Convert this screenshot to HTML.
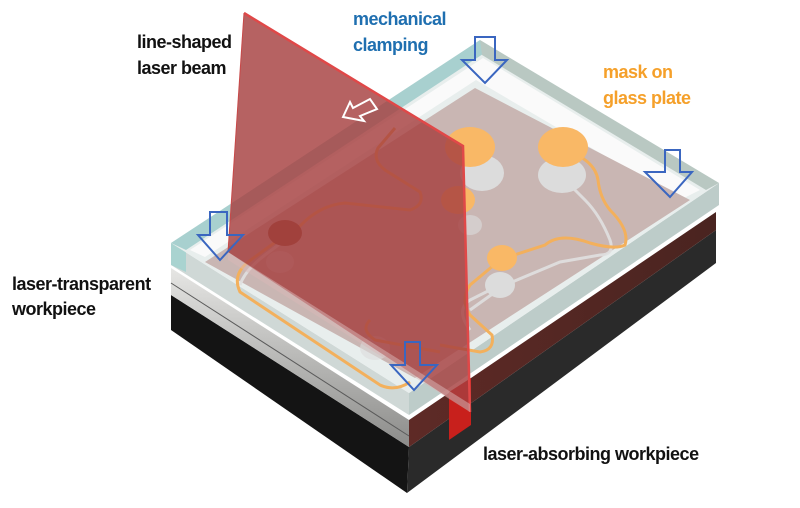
<!DOCTYPE html>
<html><head><meta charset="utf-8"><style>
html,body{margin:0;padding:0;background:#fff;width:800px;height:508px;overflow:hidden}
svg{display:block}
text{font-family:"Liberation Sans",sans-serif;font-weight:bold;font-size:18px;letter-spacing:-0.5px}
</style></head><body>
<svg width="800" height="508" viewBox="0 0 800 508" xmlns="http://www.w3.org/2000/svg">
<defs>
<linearGradient id="gl" x1="0" y1="0" x2="0" y2="1"><stop offset="0" stop-color="#e6e6e4"/><stop offset="1" stop-color="#8c8c8a"/></linearGradient>
<linearGradient id="gr" x1="0" y1="0" x2="1" y2="0"><stop offset="0" stop-color="#5e2a26"/><stop offset="1" stop-color="#4a2420"/></linearGradient>
</defs>
<!-- black base -->
<polygon points="171,295 409,447 407,493 171,330" fill="#141414"/>
<polygon points="409,447 716,230 716,263 407,493" fill="#2a2a2a"/>
<!-- gray workpiece -->
<polygon points="171,268 409,420 409,447 171,295" fill="url(#gl)"/>
<polygon points="409,420 716,212 716,230 409,447" fill="url(#gr)"/>
<line x1="171" y1="283" x2="409" y2="436" stroke="#5a5a5a" stroke-width="1"/>
<!-- red band on side -->
<polygon points="449,392 471,378 471,425 449,440" fill="#c8201c"/>
<!-- glass plate -->
<polygon points="171,243 409,393 409,415 171,265" fill="#cfd8d6"/>
<polygon points="171,243 186,252 186,272 171,265" fill="#a9d3d0"/>
<polygon points="409,393 719,183 719,205 409,415" fill="#b6c6c3" opacity="0.9"/>
<polygon points="171,243 480,40 719,183 409,393" fill="#e8eeed"/>
<!-- back edge strips -->
<polygon points="171,243 480,40 486,52 186,250" fill="#a8d0cf"/>
<polygon points="480,40 719,183 706,190 482,55" fill="#b9c8c2"/>
<polygon points="190,250 483,58 700,190 680,200 476,80 205,257" fill="#fafafa"/>
<!-- mask -->
<polygon points="205,262 475,88 690,200 415,378" fill="#c9b6b3"/>
<!-- traces gray -->
<g fill="none" stroke="#e0e0e0" stroke-width="3" opacity="0.9">
<path d="M560,175 L585,200 Q600,215 610,240 Q615,255 600,255 L560,262 L505,285 L470,310"/>
<path d="M500,285 L470,300 Q455,310 470,330"/>
<path d="M285,240 L265,255 Q245,270 240,285"/>
</g>
<!-- gray circles -->
<g fill="#dcdcdc">
<ellipse cx="482" cy="173" rx="22" ry="18"/>
<ellipse cx="562" cy="175" rx="24" ry="18"/>
<ellipse cx="500" cy="285" rx="15" ry="13"/>
<ellipse cx="470" cy="225" rx="12" ry="10" opacity="0.6"/>
<ellipse cx="280" cy="262" rx="14" ry="11" opacity="0.6"/>
<ellipse cx="375" cy="348" rx="15" ry="12" opacity="0.6"/>
</g>
<!-- orange traces -->
<g fill="none" stroke="#f3b05c" stroke-width="3">
<path d="M565,150 Q595,160 598,180 Q600,198 610,210 Q630,230 625,245 Q615,250 590,243 Q560,232 545,245 L505,258"/>
<path d="M500,260 L470,285 Q460,300 470,315 L492,335 Q495,350 480,352 L440,345"/>
<path d="M285,233 L300,226 Q320,205 345,203 L410,210 Q425,205 420,192 L385,170 Q372,160 378,148 L395,128"/>
<path d="M285,235 L248,262 Q232,275 240,292 L380,385 Q395,392 410,382"/>
<path d="M370,320 Q360,330 375,340 L440,352"/>
</g>
<!-- orange circles -->
<g fill="#f9b866">
<ellipse cx="470" cy="147" rx="25" ry="20"/>
<ellipse cx="563" cy="147" rx="25" ry="20"/>
<ellipse cx="458" cy="200" rx="17" ry="14"/>
<ellipse cx="502" cy="258" rx="15" ry="13"/>
</g>
<ellipse cx="285" cy="233" rx="17" ry="13" fill="#8a4a30"/>
<!-- red laser plane -->
<polygon points="244,13 463,146 470,412 228,252" fill="#a6403f" opacity="0.82"/>
<polyline points="244,13 463,146 470,412" fill="none" stroke="#e04848" stroke-width="2.5"/>
<polyline points="244,13 228,252" fill="none" stroke="#c84848" stroke-width="1"/>
<!-- white arrow on plane -->
<polygon points="343,117 350,102 353,108 370,99 377,109 360,116 364,121" fill="none" stroke="#fff" stroke-width="2"/>
<!-- glass front edge strip over plane -->
<polygon points="228,252 470,404 470,412 228,260" fill="#d9b8b8" opacity="0.5"/>
<!-- blue arrows -->
<g fill="none" stroke="#3a66c0" stroke-width="2">
<polygon points="475,37 495,37 495,60 507,60 485,83 462,60 475,60"/>
<polygon points="665,150 680,150 680,172 692,172 670,197 645,172 665,172"/>
<polygon points="210,212 227,212 227,235 243,235 220,260 198,235 210,235"/>
<polygon points="405,342 420,342 420,365 437,365 414,390 391,365 405,365"/>
</g>
<!-- labels -->
<text x="137" y="48" fill="#111">line-shaped</text>
<text x="137" y="74" fill="#111">laser beam</text>
<text x="353" y="25" fill="#1f6fb0">mechanical</text>
<text x="353" y="51" fill="#1f6fb0">clamping</text>
<text x="603" y="78" fill="#f5a02a">mask on</text>
<text x="603" y="104" fill="#f5a02a">glass plate</text>
<text x="12" y="290" fill="#111">laser-transparent</text>
<text x="12" y="315" fill="#111">workpiece</text>
<text x="483" y="460" fill="#111">laser-absorbing workpiece</text>
</svg>
</body></html>
